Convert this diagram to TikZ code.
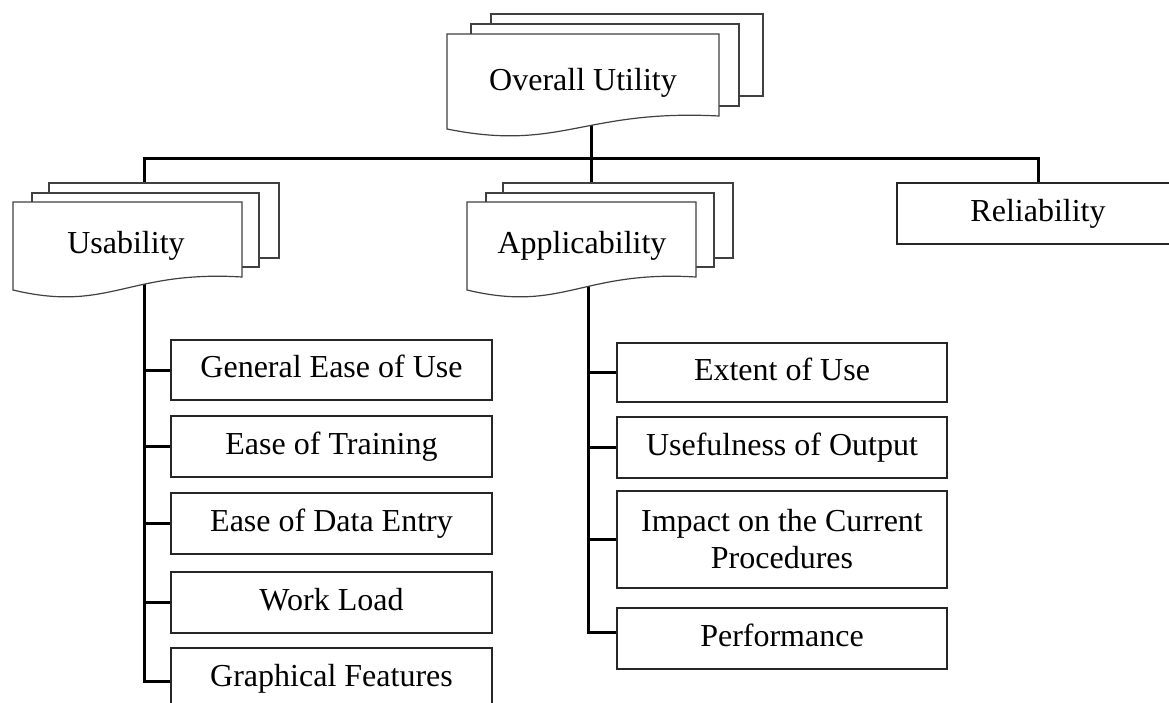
\documentclass[tikz,border=0pt]{standalone}
\usepackage{fontspec}
\setmainfont{Liberation Serif}
\pgfdeclarelayer{bg}
\pgfsetlayers{bg,main}
\tikzset{
  conn/.style={line width=3pt, black},
  docline/.style={line width=1.2pt, draw=black!75, fill=white},
  lbl/.style={font=\fontsize{32}{37}\selectfont, inner sep=0pt, anchor=base},
  itembox/.style={draw=black!85, line width=2pt, fill=white, inner sep=0pt,
    font=\fontsize{32}{37}\selectfont, text height=22pt, text depth=7pt},
}
% back page: l t r b
\newcommand{\backpage}[4]{\filldraw[docline] (#1,#2) rectangle (#3,#4);}
% front page with wavy bottom: l t r b
\newcommand{\frontpage}[4]{\filldraw[docline] (#1,#2) -- (#3,#2) -- (#3,#4)
  .. controls ({#1+0.5*(#3-#1)},{#4-7}) and ({#1+0.42*(#3-#1)},{#4+36}) .. (#1,{#4+13}) -- cycle;}
\begin{document}
\begin{tikzpicture}[x=1pt,y=-1pt]
\useasboundingbox (0,0) rectangle (1169,702);
\clip (0,0) rectangle (1169,702);

% ---- document stacks ----
\backpage{491}{14}{763}{96}
\backpage{471}{24}{739}{106}
\frontpage{447}{34}{719}{116}
\node[lbl] (ou) at (583,90) {Overall Utility};

\backpage{49}{183}{279}{258}
\backpage{32}{193}{259}{267}
\frontpage{13}{202}{242}{277}
\node[lbl] (usab) at (126,253) {Usability};

\backpage{503}{183}{733}{258}
\backpage{486}{193}{714}{267}
\frontpage{467}{202}{696}{277}
\node[lbl] (appl) at (582,253) {Applicability};

% ---- boxes ----
\node[itembox, minimum width=282pt, minimum height=61pt] (rel) at (1038,213.5) {Reliability};

\node[itembox, minimum width=321pt, minimum height=60pt] (geou) at (331.5,370) {General Ease of Use};
\node[itembox, minimum width=321pt, minimum height=61pt] (eot) at (331.5,446.5) {Ease of Training};
\node[itembox, minimum width=321pt, minimum height=61pt] (eode) at (331.5,523.5) {Ease of Data Entry};
\node[itembox, minimum width=321pt, minimum height=61pt] (wl) at (331.5,602.5) {Work Load};
\node[itembox, minimum width=321pt, minimum height=61pt] (gf) at (331.5,678.5) {Graphical Features};

\node[itembox, minimum width=330pt, minimum height=59pt] (eou) at (782,372.5) {Extent of Use};
\node[itembox, minimum width=330pt, minimum height=61pt] (uoo) at (782,447.5) {Usefulness of Output};
\node[draw=black!85, line width=2pt, fill=white, inner sep=0pt, align=center,
      font=\fontsize{32}{37}\selectfont, minimum width=330pt, minimum height=97pt]
      (imp) at (782,539.5) {Impact on the Current\\Procedures};
\node[itembox, minimum width=330pt, minimum height=61pt] (perf) at (782,638.5) {Performance};

% ---- connector anchors (hidden under the documents) ----
\coordinate (ouTrunk) at (591,80);
\coordinate (bus) at (591,158);
\coordinate (uTop) at (144,200);
\coordinate (aTop) at (591,200);
\coordinate (uTrunk) at (144,250);
\coordinate (aTrunk) at (588,250);

\begin{pgfonlayer}{bg}
\draw[conn] (ouTrunk) -- (bus);
\draw[conn] (uTop) |- (bus) -| (rel.north);
\draw[conn] (aTop) -- (bus);
\draw[conn] (uTrunk) |- ([yshift=-2.5pt]gf.west);
\draw[conn] (uTrunk |- geou.west) -- (geou.west);
\draw[conn] (uTrunk |- eot.west) -- (eot.west);
\draw[conn] (uTrunk |- eode.west) -- (eode.west);
\draw[conn] (uTrunk |- wl.west) -- (wl.west);
\draw[conn] (aTrunk) |- ([yshift=6pt]perf.west);
\draw[conn] (aTrunk |- eou.west) -- (eou.west);
\draw[conn] (aTrunk |- uoo.west) -- (uoo.west);
\draw[conn] (aTrunk |- imp.west) -- (imp.west);
\end{pgfonlayer}
\end{tikzpicture}
\end{document}
